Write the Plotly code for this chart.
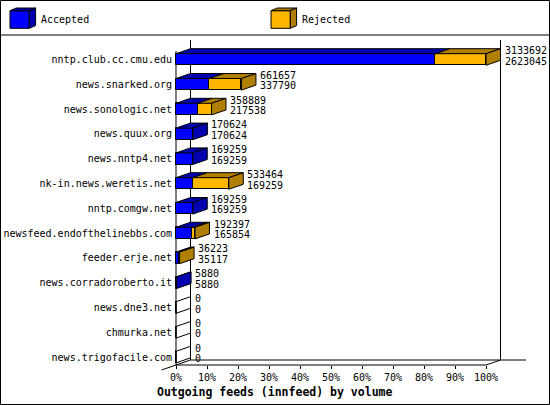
import plotly.graph_objects as go

# innfeed outgoing feeds: offered (top number) and accepted (bottom number)
hosts = [
    "nntp.club.cc.cmu.edu", "news.snarked.org", "news.sonologic.net",
    "news.quux.org", "news.nntp4.net", "nk-in.news.weretis.net",
    "nntp.comgw.net", "newsfeed.endofthelinebbs.com", "feeder.erje.net",
    "news.corradoroberto.it", "news.dne3.net", "chmurka.net",
    "news.trigofacile.com",
]
offered = [3133692, 661657, 358889, 170624, 169259, 533464, 169259,
           192397, 36223, 5880, 0, 0, 0]
accepted = [2623045, 337790, 217538, 170624, 169259, 169259, 169259,
            165854, 35117, 5880, 0, 0, 0]
series_names = ["Accepted", "Rejected"]
tick_pcts = [0, 10, 20, 30, 40, 50, 60, 70, 80, 90, 100]

rejected = [o - a for o, a in zip(offered, accepted)]
top = max(offered)
acc_pct = [100 * a / top for a in accepted]
rej_pct = [100 * r / top for r in rejected]
off_pct = [100 * o / top for o in offered]

# colours (front face / shaded top+side)
FRONT = ["#0000ff", "#ffb700"]
SHADE = ["#0000b0", "#b07e00"]
FONT = "DejaVu Sans Mono"

# page geometry in pixels
W, H = 550, 405
L, R, T, B = 150, 10, 36, 25
plot_w = W - L - R
plot_h = H - T - B
X0_PX, PX_PER_PCT = 176, 3.1
ROW0_PX, ROW_PX = 59.5, 24.8
BAR_PX = 11.6
DEPTH_X_PX, DEPTH_Y_PX = 14.5, 5


def xpct(px):
    return (px - X0_PX) / PX_PER_PCT


def yrow(py):
    return (py - ROW0_PX) / ROW_PX


def fx(px):
    return (px - L) / plot_w


def fy(py):
    return (H - B - py) / plot_h


dx = DEPTH_X_PX / PX_PER_PCT
dy = DEPTH_Y_PX / ROW_PX
hh = BAR_PX / 2 / ROW_PX
rows = list(range(len(hosts)))


def poly(pts):
    return "M " + " L ".join(f"{x},{y}" for x, y in pts) + " Z"


fig = go.Figure()
fig.add_trace(go.Bar(
    y=rows, x=acc_pct, orientation="h", width=2 * hh, name=series_names[0],
    marker=dict(color=FRONT[0], line=dict(color="black", width=1)),
))
fig.add_trace(go.Bar(
    y=rows, x=rej_pct, base=acc_pct, orientation="h", width=2 * hh,
    name=series_names[1],
    marker=dict(color=FRONT[1], line=dict(color="black", width=1)),
))

shapes = []
annotations = []

# 3d top and side faces of each bar
for k in rows:
    segs = [(0, acc_pct[k], 0), (acc_pct[k], off_pct[k], 1)]
    y_top = k - hh
    last = None
    for x0, x1, s in segs:
        if x1 - x0 <= 0:
            continue
        last = s
        shapes.append(dict(
            type="path", xref="x", yref="y", layer="above",
            path=poly([(x0, y_top), (x1, y_top), (x1 + dx, y_top - dy), (x0 + dx, y_top - dy)]),
            fillcolor=SHADE[s], line=dict(color="black", width=1),
        ))
    xe = off_pct[k]
    shapes.append(dict(
        type="path", xref="x", yref="y", layer="above",
        path=poly([(xe, k - hh), (xe + dx, k - hh - dy), (xe + dx, k + hh - dy), (xe, k + hh)]),
        fillcolor=SHADE[last] if last is not None else "rgba(0,0,0,0)",
        line=dict(color="black", width=1),
    ))
    if last is None:
        shapes.append(dict(type="line", xref="x", yref="y", layer="above",
                           x0=0, x1=0, y0=k - hh, y1=k + hh,
                           line=dict(color="black", width=1)))
    for txt, off in [(offered[k], -9), (accepted[k], 1.5)]:
        annotations.append(dict(
            x=xe + dx, y=k + off / ROW_PX, xref="x", yref="y", text=str(txt),
            showarrow=False, xanchor="left", yanchor="middle", xshift=2,
            font=dict(family=FONT, size=10, color="black"),
        ))

# axis frame (back wall and floor)
fl_front = yrow(365)
fl_back = yrow(360)
wall_top = yrow(40)
frame = [
    (0, yrow(51), 0, fl_front),
    (dx, wall_top, dx, fl_back),
    (100 + dx, wall_top, 100 + dx, fl_back),
    (dx, fl_back, xpct(526), fl_back),
    (0, fl_front, 100, fl_front),
    (-dx, fl_front + dy, dx, fl_back),
    (100, fl_front, 100 + dx, fl_back),
]
for x0, y0, x1, y1 in frame:
    shapes.append(dict(type="line", xref="x", yref="y", layer="below",
                       x0=x0, y0=y0, x1=x1, y1=y1,
                       line=dict(color="black", width=1)))

# legend header with little cubes
lg_x = [10, 271]
for s, x in enumerate(lg_x):
    fw, fh, ddx, ddy = 19.3, 17.6, 6.3, 2.7
    xa, ya = x, 10.7
    shapes.append(dict(type="path", xref="paper", yref="paper",
                       path=poly([(fx(xa), fy(ya)), (fx(xa + fw), fy(ya)),
                                  (fx(xa + fw), fy(ya + fh)), (fx(xa), fy(ya + fh))]),
                       fillcolor=FRONT[s], line=dict(color="black", width=1)))
    shapes.append(dict(type="path", xref="paper", yref="paper",
                       path=poly([(fx(xa), fy(ya)), (fx(xa + ddx), fy(ya - ddy)),
                                  (fx(xa + fw + ddx), fy(ya - ddy)), (fx(xa + fw), fy(ya))]),
                       fillcolor=SHADE[s], line=dict(color="black", width=1)))
    shapes.append(dict(type="path", xref="paper", yref="paper",
                       path=poly([(fx(xa + fw), fy(ya)), (fx(xa + fw + ddx), fy(ya - ddy)),
                                  (fx(xa + fw + ddx), fy(ya + fh - ddy)), (fx(xa + fw), fy(ya + fh))]),
                       fillcolor=SHADE[s], line=dict(color="black", width=1)))
    annotations.append(dict(x=fx(xa + fw + ddx + 3), y=fy(20), xref="paper", yref="paper",
                            text=series_names[s], showarrow=False,
                            xanchor="left", yanchor="middle",
                            font=dict(family=FONT, size=10, color="black")))

shapes.append(dict(type="line", xref="paper", yref="paper",
                   x0=fx(0), x1=fx(W), y0=fy(35), y1=fy(35),
                   line=dict(color="black", width=1)))
shapes.append(dict(type="rect", xref="paper", yref="paper",
                   x0=fx(0.5), x1=fx(W - 0.5), y0=fy(0.5), y1=fy(H - 0.5),
                   line=dict(color="black", width=1)))

annotations.append(dict(x=fx(155), y=fy(392), xref="paper", yref="paper",
                        text="<b>Outgoing feeds (innfeed) by volume</b>",
                        showarrow=False, xanchor="left", yanchor="middle",
                        font=dict(family=FONT, size=11.5, color="black")))

fig.update_layout(
    width=W, height=H,
    margin=dict(l=L, r=R, t=T, b=B),
    paper_bgcolor="white", plot_bgcolor="white",
    barmode="overlay", showlegend=False, bargap=0,
    shapes=shapes, annotations=annotations,
    font=dict(family=FONT, size=10, color="black"),
    xaxis=dict(
        range=[xpct(L), xpct(W - R)], anchor="free", position=fy(365),
        tickvals=tick_pcts, ticktext=[f"{p}%" for p in tick_pcts],
        ticks="outside", ticklen=3, tickcolor="black", tickwidth=1,
        showline=False, showgrid=False, zeroline=False, fixedrange=True,
        automargin=False,
        tickfont=dict(family=FONT, size=10, color="black"),
    ),
    yaxis=dict(
        range=[yrow(H - B), yrow(T)], anchor="free", position=fx(176),
        tickvals=rows, ticktext=hosts, ticks="", ticklabelstandoff=4,
        showline=False, showgrid=False, zeroline=False, fixedrange=True,
        automargin=False,
        tickfont=dict(family=FONT, size=10, color="black"),
    ),
)

# page body has a default margin; drop it so the chart fills the window
fig.write_html("out.html", config={"displayModeBar": False},
               post_script="document.body.style.margin='0';document.body.style.overflow='hidden';")
